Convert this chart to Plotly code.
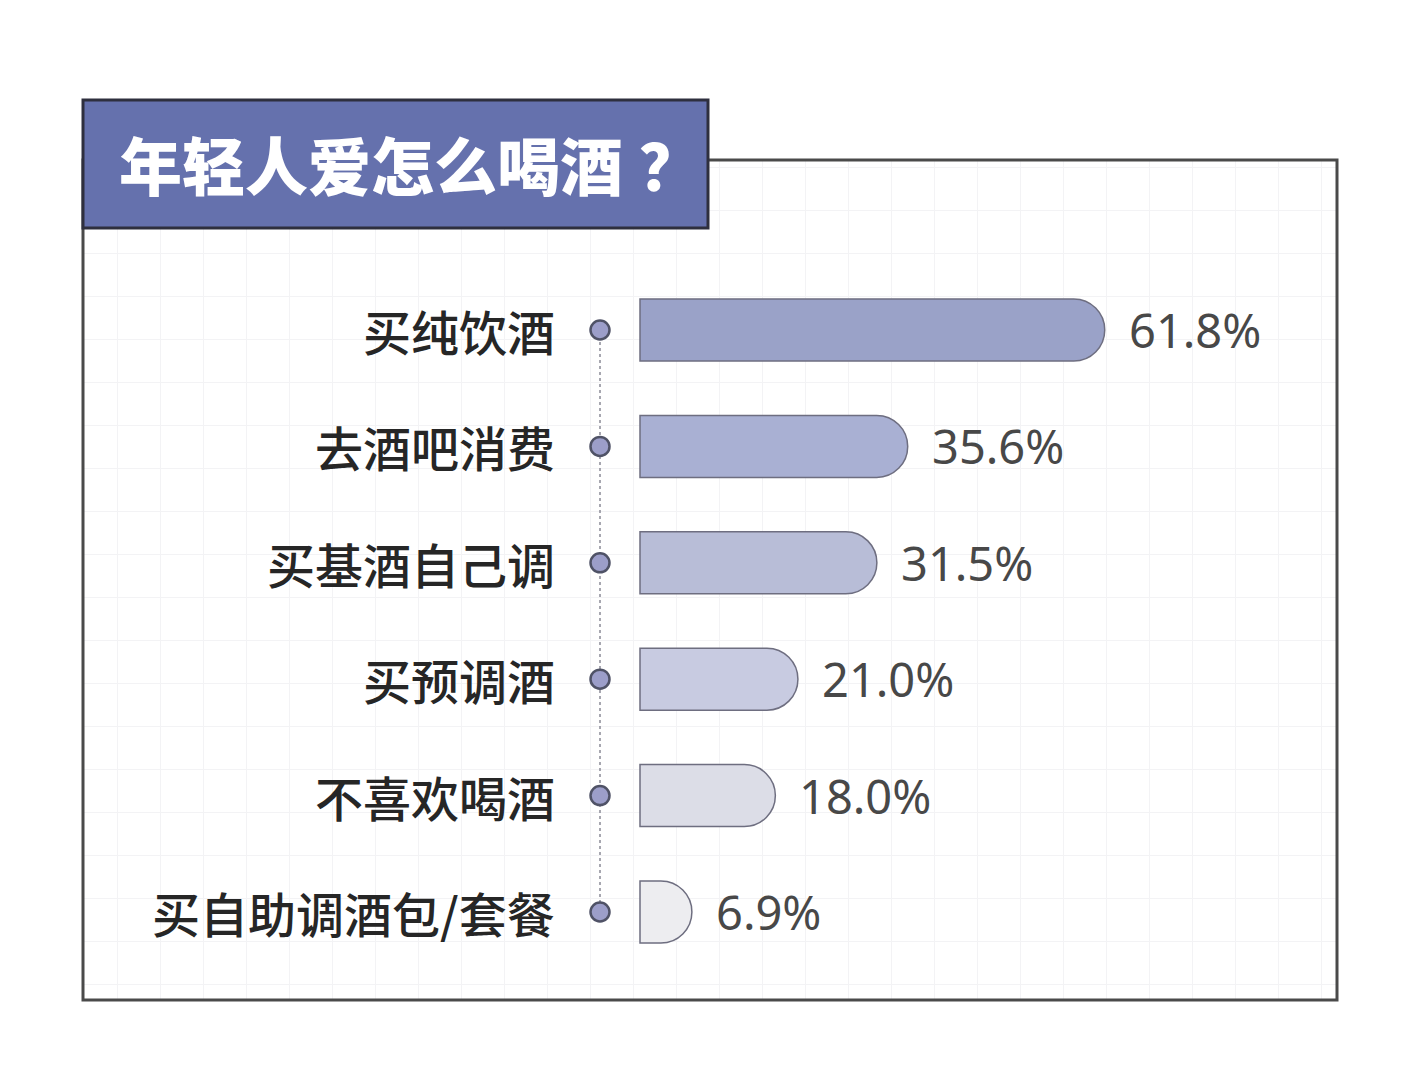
import plotly.graph_objects as go

# ---- data ----
categories = ["买纯饮酒", "去酒吧消费", "买基酒自己调", "买预调酒", "不喜欢喝酒", "买自助调酒包/套餐"]
values = [61.8, 35.6, 31.5, 21.0, 18.0, 6.9]
bar_colors = ["#9aa2c8", "#a9b0d3", "#b8bdd7", "#c8cbe1", "#dcdde7", "#ededf0"]
title_text = "年轻人爱怎么喝酒\u2005？"

# ---- layout geometry (screen pixels) ----
W, H = 1421, 1080
OFF = 8               # page body margin in the browser
BOX = dict(x0=83, x1=1337, y0=160, y1=1000)
TBOX = dict(x0=83, x1=708, y0=100, y1=228)
BAR_X0 = 640          # screen pixel of value 0
PX_PER_UNIT = 7.52    # pixels per percent
ROW0 = 330            # screen pixel centre of first row
ROW_STEP = 116.4      # pixel spacing between rows
BAR_PX = 62           # bar thickness in px
DOT_PX = 600
LABEL_PX = 557
GRID_STEP = 43


def px_x(p):
    return (p - OFF) / W


def px_y(p):
    return 1 - (p - OFF) / H


def to_data_x(p):
    return (p - BAR_X0) / PX_PER_UNIT


idx = list(range(len(categories)))

fig = go.Figure()

# background grid subplot (x/y) - drawn first
fig.add_trace(go.Scatter(x=[None], y=[None], xaxis="x", yaxis="y", showlegend=False,
                         hoverinfo="skip"))

# dotted connector
fig.add_trace(go.Scatter(
    x=[to_data_x(DOT_PX)] * len(idx), y=idx, mode="lines",
    line=dict(color="#8a8a96", width=1.5, dash="dot"),
    xaxis="x2", yaxis="y2", showlegend=False, hoverinfo="skip"))

# bars
fig.add_trace(go.Bar(
    x=values, y=idx, orientation="h",
    width=BAR_PX / ROW_STEP,
    marker=dict(color=bar_colors, line=dict(color="#6e6e80", width=1.5)),
    xaxis="x2", yaxis="y2", showlegend=False, hoverinfo="skip"))

# dots
fig.add_trace(go.Scatter(
    x=[to_data_x(DOT_PX)] * len(idx), y=idx, mode="markers",
    marker=dict(size=19, color="#9c9ec9", line=dict(color="#4f5266", width=2.5)),
    xaxis="x2", yaxis="y2", showlegend=False, hoverinfo="skip"))

annotations = []
for i, (c, v) in enumerate(zip(categories, values)):
    annotations.append(dict(
        x=to_data_x(LABEL_PX), y=i, xref="x2", yref="y2", text=c,
        xanchor="right", yanchor="middle", showarrow=False,
        font=dict(family="Noto Sans CJK SC", size=48, color="#262626", weight=500)))
    annotations.append(dict(
        x=v, y=i, xref="x2", yref="y2", text=f"{v:.1f}%",
        xanchor="left", yanchor="middle", showarrow=False, xshift=22,
        font=dict(family="Noto Sans", size=47, color="#484848")))

annotations.append(dict(
    x=px_x(117), y=px_y(163), xref="paper", yref="paper", text=title_text,
    xanchor="left", yanchor="middle", showarrow=False,
    font=dict(family="Noto Sans CJK SC", size=63, color="#ffffff", weight=900)))

shapes = [
    dict(type="rect", xref="paper", yref="paper",
         x0=px_x(BOX["x0"]), x1=px_x(BOX["x1"]), y0=px_y(BOX["y1"]), y1=px_y(BOX["y0"]),
         line=dict(color="#4a4a4a", width=3), fillcolor="rgba(0,0,0,0)"),
    dict(type="rect", xref="paper", yref="paper",
         x0=px_x(TBOX["x0"]), x1=px_x(TBOX["x1"]), y0=px_y(TBOX["y1"]), y1=px_y(TBOX["y0"]),
         line=dict(color="#2e2f3e", width=3), fillcolor="#6571ad"),
]

bw = BOX["x1"] - BOX["x0"]
bh = BOX["y1"] - BOX["y0"]

fig.update_layout(
    width=W, height=H,
    margin=dict(l=0, r=0, t=0, b=0),
    paper_bgcolor="#ffffff",
    plot_bgcolor="rgba(0,0,0,0)",
    barcornerradius="50%",
    xaxis=dict(domain=[px_x(BOX["x0"]), px_x(BOX["x1"])], range=[0, bw],
               dtick=GRID_STEP, tick0=34, showgrid=True, gridcolor="#f3f3f5", gridwidth=1,
               showticklabels=False, zeroline=False, showline=False, fixedrange=True),
    yaxis=dict(domain=[px_y(BOX["y1"]), px_y(BOX["y0"])], range=[0, bh],
               dtick=GRID_STEP, tick0=16, showgrid=True, gridcolor="#f3f3f5", gridwidth=1,
               showticklabels=False, zeroline=False, showline=False, fixedrange=True),
    xaxis2=dict(domain=[0, 1], range=[to_data_x(OFF), to_data_x(W + OFF)], anchor="y2",
                showgrid=False, showticklabels=False, zeroline=False, showline=False),
    yaxis2=dict(domain=[0, 1], range=[(H + OFF - ROW0) / ROW_STEP, (OFF - ROW0) / ROW_STEP],
                anchor="x2",
                showgrid=False, showticklabels=False, zeroline=False, showline=False),
    annotations=annotations,
    shapes=shapes,
)

fig.write_html("out.html")
